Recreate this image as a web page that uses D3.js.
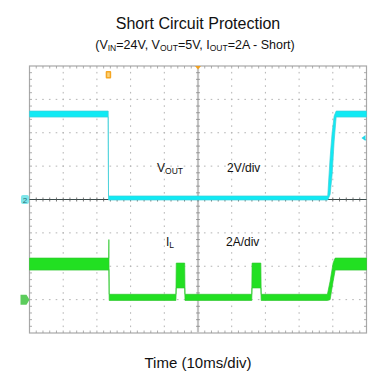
<!DOCTYPE html>
<html><head><meta charset="utf-8">
<script src="https://cdn.jsdelivr.net/npm/d3@7/dist/d3.min.js"></script>
<style>
html,body{margin:0;padding:0;background:#fff;}
svg{display:block;font-family:"Liberation Sans",Arial,sans-serif;}
</style></head>
<body><svg id="c" width="386" height="379"></svg>
<script>
// ---- data (time in ms, 10 ms/div) ----
const xDivs = 10, yDivs = 8;
const msPerDiv = 10;
// VOUT (channel 2, 2 V/div): envelope of the trace
const voutT  = [0,    23.35, 23.45, 88.5, 89.2, 89.8, 90.4, 91.0, 100];
const voutLo = [4.94, 4.94, -0.03, -0.03, 0.3,  1.5,  3.5,  4.94, 4.94];
const voutHi = [5.30, 5.30,  0.21,  0.21, 2.5,  4.0,  5.0,  5.30, 5.30];
// IL (2 A/div): envelope of the trace
const ilT  = [0,    23.5, 23.55, 23.65, 43.45, 43.55, 46.05, 46.15, 65.95, 66.05, 68.65, 68.75, 88.4, 89.2, 90.1, 90.7, 100];
const ilLo = [1.77, 1.77, 1.80, -0.05, -0.05, 0.70, 0.70, -0.05, -0.05, 0.70, 0.70, -0.05, -0.05, 0.0, 1.10, 1.77, 1.77];
const ilHi = [2.49, 2.49, 3.60,  0.32,  0.32, 2.19, 2.19,  0.32,  0.32, 2.19, 2.19,  0.32,  0.32, 1.10, 2.20, 2.49, 2.49];
const voltsPerDiv = 2, ampsPerDiv = 2;
const voutGroundDiv = 4, ilGroundDiv = 1;
const trigLevelV = 3.68;

// ---- layout ----
const L = 29.5, R = 366.5, T = 66, B = 333;
const svg = d3.select("#c");
const x = d3.scaleLinear().domain([0, xDivs * msPerDiv]).range([L, R]);
const yDiv = d3.scaleLinear().domain([0, yDivs]).range([B, T]);
const yV = d3.scaleLinear().domain([-voutGroundDiv * voltsPerDiv, (yDivs - voutGroundDiv) * voltsPerDiv]).range([B, T]);
const yI = d3.scaleLinear().domain([-ilGroundDiv * ampsPerDiv, (yDivs - ilGroundDiv) * ampsPerDiv]).range([B, T]);
const xd = d3.scaleLinear().domain([0, xDivs]).range([L, R]);

const g = svg.append("g");
// dotted division grid
const minorX = d3.range(0, xDivs * 5 + 1).map(i => i / 5);
const minorY = d3.range(0, yDivs * 5 + 1).map(i => i / 5);
for (let i = 1; i < xDivs; i++) {
  if (i === xDivs / 2) continue;
  g.selectAll(null).data(minorY.slice(1, -1)).enter().append("rect")
    .attr("x", xd(i) - 0.5).attr("y", d => yDiv(d) - 0.8).attr("width", 1).attr("height", 1.6)
    .attr("fill", "#b4b4b4");
}
for (let j = 1; j < yDivs; j++) {
  if (j === yDivs / 2) continue;
  g.selectAll(null).data(minorX.slice(1, -1)).enter().append("rect")
    .attr("x", d => xd(d) - 0.8).attr("y", yDiv(j) - 0.5).attr("width", 1.6).attr("height", 1)
    .attr("fill", "#b4b4b4");
}
// border
g.append("rect").attr("x", L).attr("y", T).attr("width", R - L).attr("height", B - T)
  .attr("fill", "none").attr("stroke", "#a8a8a8").attr("stroke-width", 1.2);
// border ticks
g.selectAll(null).data(minorX.slice(1, -1)).enter().append("line")
  .attr("x1", d => xd(d)).attr("x2", d => xd(d)).attr("y1", T).attr("y2", T + 2.5)
  .attr("stroke", "#999").attr("stroke-width", 0.8);
g.selectAll(null).data(minorX.slice(1, -1)).enter().append("line")
  .attr("x1", d => xd(d)).attr("x2", d => xd(d)).attr("y1", B).attr("y2", B - 2.5)
  .attr("stroke", "#999").attr("stroke-width", 0.8);
g.selectAll(null).data(minorY.slice(1, -1)).enter().append("line")
  .attr("y1", d => yDiv(d)).attr("y2", d => yDiv(d)).attr("x1", L).attr("x2", L + 2.5)
  .attr("stroke", "#999").attr("stroke-width", 0.8);
g.selectAll(null).data(minorY.slice(1, -1)).enter().append("line")
  .attr("y1", d => yDiv(d)).attr("y2", d => yDiv(d)).attr("x1", R).attr("x2", R - 2.5)
  .attr("stroke", "#999").attr("stroke-width", 0.8);
// center vertical axis (light gray, thick) with ticks
const cx = xd(xDivs / 2), cy = yDiv(yDivs / 2);
g.append("line").attr("x1", cx).attr("x2", cx).attr("y1", T).attr("y2", B)
  .attr("stroke", "#c4c4c4").attr("stroke-width", 2.2);
g.selectAll(null).data(minorY.slice(1, -1)).enter().append("line")
  .attr("y1", d => yDiv(d)).attr("y2", d => yDiv(d)).attr("x1", cx - 2).attr("x2", cx + 2)
  .attr("stroke", "#8a8a8a").attr("stroke-width", 0.8);
// center horizontal axis (dark) with ticks
g.append("line").attr("x1", L).attr("x2", R).attr("y1", cy).attr("y2", cy)
  .attr("stroke", "#3a4a4a").attr("stroke-width", 1.1);
g.selectAll(null).data(minorX.slice(1, -1)).enter().append("line")
  .attr("x1", d => xd(d)).attr("x2", d => xd(d)).attr("y1", cy - 2).attr("y2", cy + 2)
  .attr("stroke", "#555").attr("stroke-width", 0.8);

// traces
const voutData = voutT.map((t, i) => ({t, lo: voutLo[i], hi: voutHi[i]}));
const ilData = ilT.map((t, i) => ({t, lo: ilLo[i], hi: ilHi[i]}));
const vArea = d3.area().x(d => x(d.t)).y0(d => yV(d.lo)).y1(d => yV(d.hi));
const iArea = d3.area().x(d => x(d.t)).y0(d => yI(d.lo)).y1(d => yI(d.hi));
svg.append("path").datum(ilData).attr("d", iArea)
  .attr("fill", "#22e022").attr("stroke", "#2fc82f").attr("stroke-width", 0.7);
svg.append("path").datum(voutData).attr("d", vArea)
  .attr("fill", "#10eaf4").attr("stroke", "#3ccfd9").attr("stroke-width", 0.7);

// markers
svg.append("rect").attr("x", 21).attr("y", cy - 4.5).attr("width", 8).attr("height", 9).attr("rx", 2)
  .attr("fill", "#7fe6ea");
svg.append("text").attr("x", 25).attr("y", cy + 3).attr("text-anchor", "middle")
  .attr("font-size", 8).attr("fill", "#2a6f73").text("2");
const gy = yI(0);
svg.append("path").attr("d", `M20.5,${gy-5} h6 l3,5 l-3,5 h-6 z`).attr("fill", "#5ccc5c");
svg.append("path").attr("d", `M${R-1},${yV(trigLevelV)-3} l-4,3 l4,3 z`).attr("fill", "#20d8e8");
svg.append("path").attr("d", `M${cx-3},${T} h6 l-3,3.5 z`).attr("fill", "#f0a020");
const tx = x(voutT[1]);
svg.append("rect").attr("x", tx - 2.5).attr("y", 71).attr("width", 5.5).attr("height", 7.5).attr("rx", 1)
  .attr("fill", "#f5a623");
svg.append("rect").attr("x", tx - 1).attr("y", 72.5).attr("width", 2.5).attr("height", 4.5)
  .attr("fill", "#fbd27a");

// labels
let t1 = svg.append("text").attr("x", 157).attr("y", 172).attr("font-size", 12).attr("fill", "#111");
t1.append("tspan").text("V");
t1.append("tspan").attr("font-size", 8.5).attr("dy", 1.5).text("OUT");
svg.append("text").attr("x", 227).attr("y", 172).attr("font-size", 12).attr("fill", "#111").text("2V/div");
let t2 = svg.append("text").attr("x", 166).attr("y", 246).attr("font-size", 12).attr("fill", "#111");
t2.append("tspan").text("I");
t2.append("tspan").attr("font-size", 8.5).attr("dy", 1.5).text("L");
svg.append("text").attr("x", 226).attr("y", 246).attr("font-size", 12).attr("fill", "#111").text("2A/div");

// title
svg.append("text").attr("x", 198).attr("y", 29).attr("text-anchor", "middle")
  .attr("font-size", 16).attr("fill", "#111").text("Short Circuit Protection");
const st = svg.append("text").attr("x", 195).attr("y", 49).attr("text-anchor", "middle")
  .attr("font-size", 12.5).attr("fill", "#111");
const parts = [["(V", "IN", "=24V, V"], [null, "OUT", "=5V, I"], [null, "OUT", "=2A - Short)"]];
parts.forEach(([a, s, b]) => {
  if (a) st.append("tspan").text(a);
  st.append("tspan").attr("font-size", 8.5).attr("dy", 1.5).text(s);
  st.append("tspan").attr("dy", -1.5).text(b);
});
svg.append("text").attr("x", 198).attr("y", 368).attr("text-anchor", "middle")
  .attr("font-size", 15).attr("fill", "#111").text("Time (10ms/div)");
</script></body></html>
